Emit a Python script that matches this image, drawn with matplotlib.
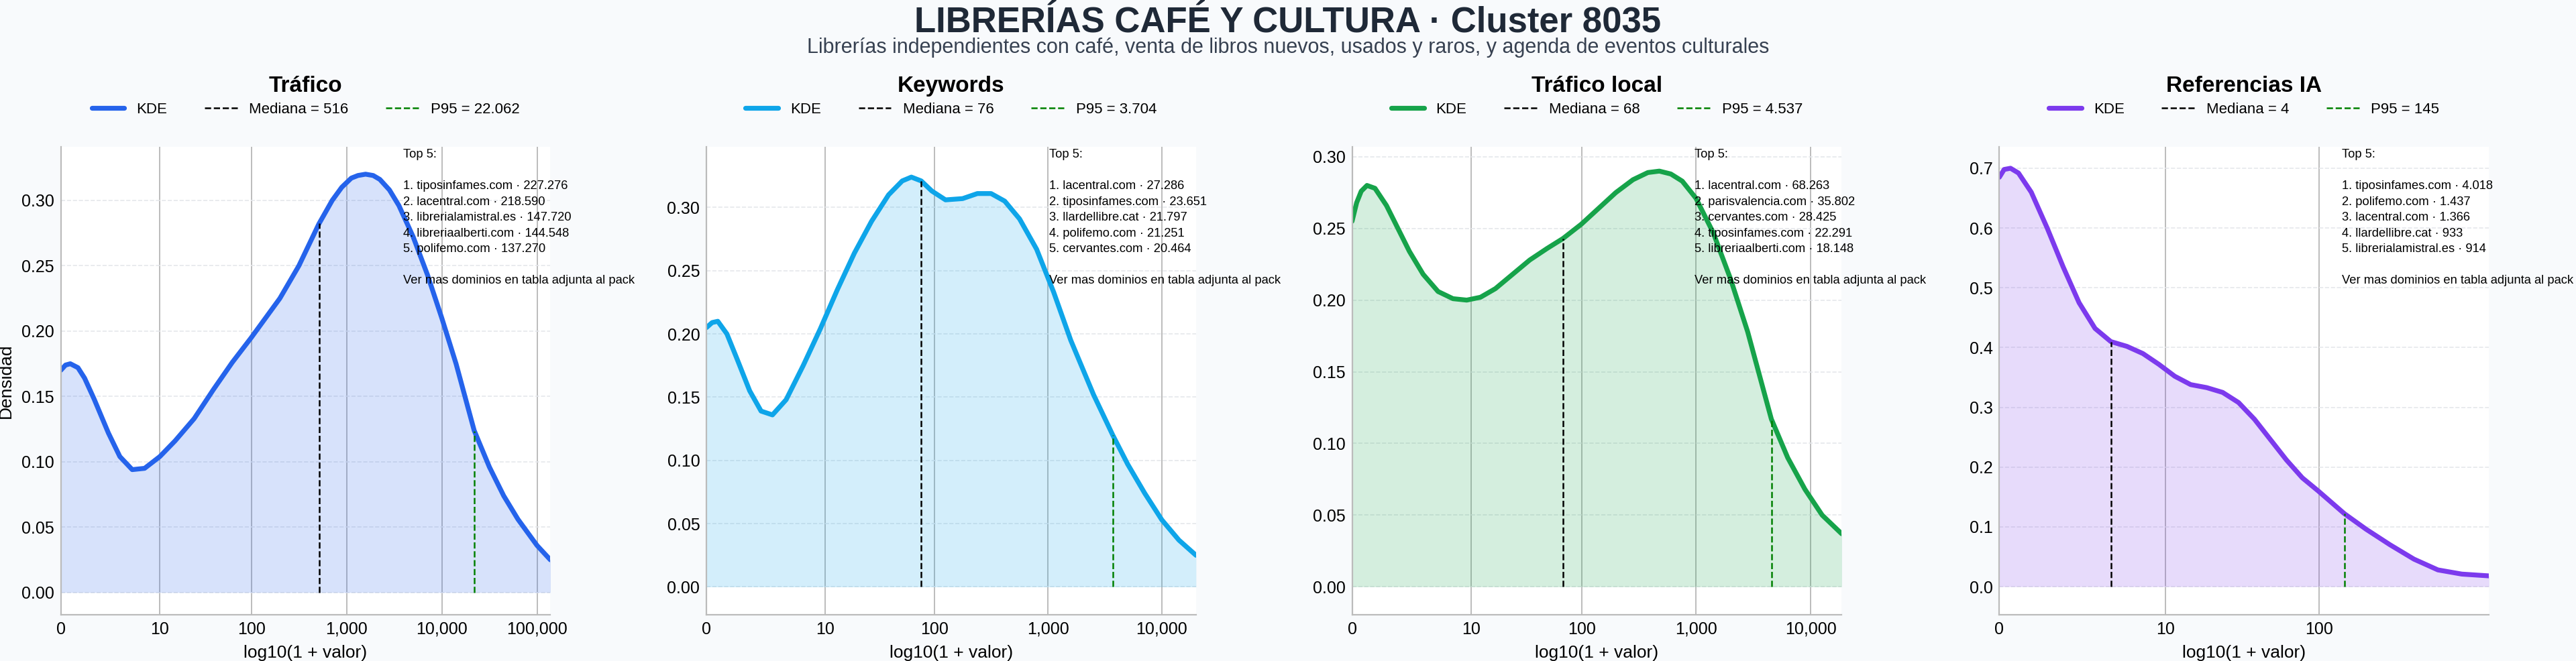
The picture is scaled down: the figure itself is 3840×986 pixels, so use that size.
import numpy as np
import matplotlib.pyplot as plt

plt.rcParams['font.family'] = ['Liberation Sans', 'DejaVu Sans']

# KDE curves (x in log10(1 + valor) units)
traf_x = [0, 0.05, 0.1, 0.18, 0.25, 0.35, 0.5, 0.62, 0.75, 0.88, 1.04, 1.2, 1.4, 1.6, 1.8, 2.0, 2.15, 2.3, 2.5, 2.71, 2.85, 2.95, 3.05, 3.12, 3.2, 3.28, 3.35, 3.45, 3.55, 3.7, 3.85, 4.0, 4.15, 4.34, 4.5, 4.65, 4.8, 5.0, 5.14]
traf_y = [0.170, 0.174, 0.175, 0.172, 0.164, 0.148, 0.122, 0.104, 0.094, 0.095, 0.104, 0.116, 0.133, 0.155, 0.176, 0.195, 0.210, 0.225, 0.250, 0.282, 0.300, 0.310, 0.317, 0.319, 0.320, 0.319, 0.316, 0.308, 0.296, 0.272, 0.243, 0.210, 0.175, 0.124, 0.096, 0.074, 0.056, 0.036, 0.025]
kw_x = [0, 0.05, 0.1, 0.18, 0.27, 0.38, 0.48, 0.58, 0.7, 0.85, 1.0, 1.15, 1.3, 1.45, 1.6, 1.72, 1.8, 1.886, 1.98, 2.1, 2.25, 2.38, 2.5, 2.62, 2.75, 2.9, 3.05, 3.2, 3.4, 3.569, 3.7, 3.85, 4.0, 4.15, 4.3]
kw_y = [0.205, 0.209, 0.210, 0.200, 0.180, 0.155, 0.139, 0.136, 0.148, 0.175, 0.204, 0.235, 0.264, 0.289, 0.310, 0.321, 0.324, 0.321, 0.313, 0.306, 0.307, 0.311, 0.311, 0.305, 0.291, 0.267, 0.233, 0.195, 0.152, 0.120, 0.097, 0.074, 0.053, 0.037, 0.025]
loc_x = [0, 0.04, 0.08, 0.13, 0.2, 0.3, 0.4, 0.5, 0.62, 0.75, 0.88, 1.0, 1.12, 1.25, 1.4, 1.55, 1.7, 1.84, 2.0, 2.15, 2.3, 2.45, 2.58, 2.68, 2.78, 2.88, 3.0, 3.15, 3.3, 3.45, 3.657, 3.8, 3.95, 4.1, 4.27]
loc_y = [0.255, 0.268, 0.276, 0.280, 0.278, 0.266, 0.250, 0.234, 0.218, 0.206, 0.201, 0.200, 0.202, 0.208, 0.218, 0.228, 0.236, 0.243, 0.253, 0.264, 0.275, 0.284, 0.289, 0.290, 0.288, 0.283, 0.271, 0.247, 0.215, 0.178, 0.117, 0.090, 0.068, 0.050, 0.037]
ia_x = [0, 0.03, 0.07, 0.12, 0.2, 0.3, 0.4, 0.5, 0.6, 0.699, 0.8, 0.9, 1.0, 1.1, 1.2, 1.3, 1.4, 1.5, 1.6, 1.7, 1.8, 1.9, 2.0, 2.164, 2.3, 2.45, 2.6, 2.75, 2.9, 3.07]
ia_y = [0.685, 0.698, 0.700, 0.692, 0.660, 0.600, 0.535, 0.475, 0.432, 0.410, 0.402, 0.390, 0.372, 0.352, 0.338, 0.333, 0.325, 0.308, 0.280, 0.246, 0.212, 0.182, 0.160, 0.122, 0.096, 0.070, 0.046, 0.028, 0.021, 0.018]

titles = ['Tráfico', 'Keywords', 'Tráfico local', 'Referencias IA']
colors = ['#2563eb', '#0ea5e9', '#16a34a', '#7c3aed']
medians = [516, 76, 68, 4]
p95s = [22062, 3704, 4537, 145]
med_labels = ['516', '76', '68', '4']
p95_labels = ['22.062', '3.704', '4.537', '145']
xmax = [5.14, 4.3, 4.27, 3.07]
ylims = [(-0.017, 0.341), (-0.022, 0.348), (-0.0195, 0.307), (-0.047, 0.736)]
tick_vals = [[0, 10, 100, 1000, 10000, 100000], [0, 10, 100, 1000, 10000],
             [0, 10, 100, 1000, 10000], [0, 10, 100]]
tops = [
    ['tiposinfames.com · 227.276', 'lacentral.com · 218.590', 'librerialamistral.es · 147.720',
     'libreriaalberti.com · 144.548', 'polifemo.com · 137.270'],
    ['lacentral.com · 27.286', 'tiposinfames.com · 23.651', 'llardellibre.cat · 21.797',
     'polifemo.com · 21.251', 'cervantes.com · 20.464'],
    ['lacentral.com · 68.263', 'parisvalencia.com · 35.802', 'cervantes.com · 28.425',
     'tiposinfames.com · 22.291', 'libreriaalberti.com · 18.148'],
    ['tiposinfames.com · 4.018', 'polifemo.com · 1.437', 'lacentral.com · 1.366',
     'llardellibre.cat · 933', 'librerialamistral.es · 914'],
]
curves = [(traf_x, traf_y), (kw_x, kw_y), (loc_x, loc_y), (ia_x, ia_y)]

bg = '#f8fafc'
fig = plt.figure(figsize=(19.2, 4.93), dpi=200, facecolor=bg)
fig.text(0.5, 0.966, 'LIBRERÍAS CAFÉ Y CULTURA · Cluster 8035', ha='center', va='center',
         fontsize=19, fontweight='bold', color='#1f2937')
fig.text(0.5, 0.928, 'Librerías independientes con café, venta de libros nuevos, usados y raros, y agenda de eventos culturales',
         ha='center', va='center', fontsize=11, color='#374151')

lefts = [37, 430, 823, 1217]
for i in range(4):
    ax = fig.add_axes([lefts[i] / 1568, 0.07, 298 / 1568, 0.708])
    ax.set_facecolor('white')
    x, y = np.array(curves[i][0]), np.array(curves[i][1])
    c = colors[i]
    ax.fill_between(x, 0, y, color=c, alpha=0.18, lw=0)
    ax.plot(x, y, color=c, lw=2.6, label='KDE', solid_capstyle='round', solid_joinstyle='round')
    mx = np.log10(1 + medians[i])
    px = np.log10(1 + p95s[i])
    ax.plot([mx, mx], [0, np.interp(mx, x, y)], color='black', ls='--', lw=0.9,
            label=f'Mediana = {med_labels[i]}')
    ax.plot([px, px], [0, np.interp(px, x, y)], color='green', ls='--', lw=0.9,
            label=f'P95 = {p95_labels[i]}')
    ticks = np.log10(1 + np.array(tick_vals[i]))
    ax.set_xticks(ticks)
    ax.set_xticklabels([f'{v:,}' for v in tick_vals[i]])
    ax.set_xlim(0, xmax[i])
    ax.set_ylim(*ylims[i])
    ax.grid(axis='x', color='#b0b0b0', lw=0.6)
    ax.grid(axis='y', color='#e5e7eb', ls='--', lw=0.6)
    ax.set_axisbelow(True)
    for s in ['top', 'right']:
        ax.spines[s].set_visible(False)
    for s in ['left', 'bottom']:
        ax.spines[s].set_color('#bbbbbb')
    ax.tick_params(labelsize=9, length=0)
    ax.set_xlabel('log10(1 + valor)', fontsize=9.5)
    if i == 0:
        ax.set_ylabel('Densidad', fontsize=9.5)
    ax.text(0.5, 1.13, titles[i], transform=ax.transAxes, ha='center', va='center',
            fontsize=12, fontweight='bold')
    ax.legend(loc='center', bbox_to_anchor=(0.5, 1.08), ncol=3, frameon=False,
              fontsize=8, handlelength=2.2, columnspacing=2.5)
    txt = 'Top 5:\n\n' + '\n'.join(f'{k + 1}. {d}' for k, d in enumerate(tops[i])) + \
          '\n\nVer mas dominios en tabla adjunta al pack'
    ax.text(0.70, 0.995, txt, transform=ax.transAxes, va='top', ha='left', fontsize=6.6,
            linespacing=1.5)

fig.savefig('out.png', dpi=200, facecolor=bg)
